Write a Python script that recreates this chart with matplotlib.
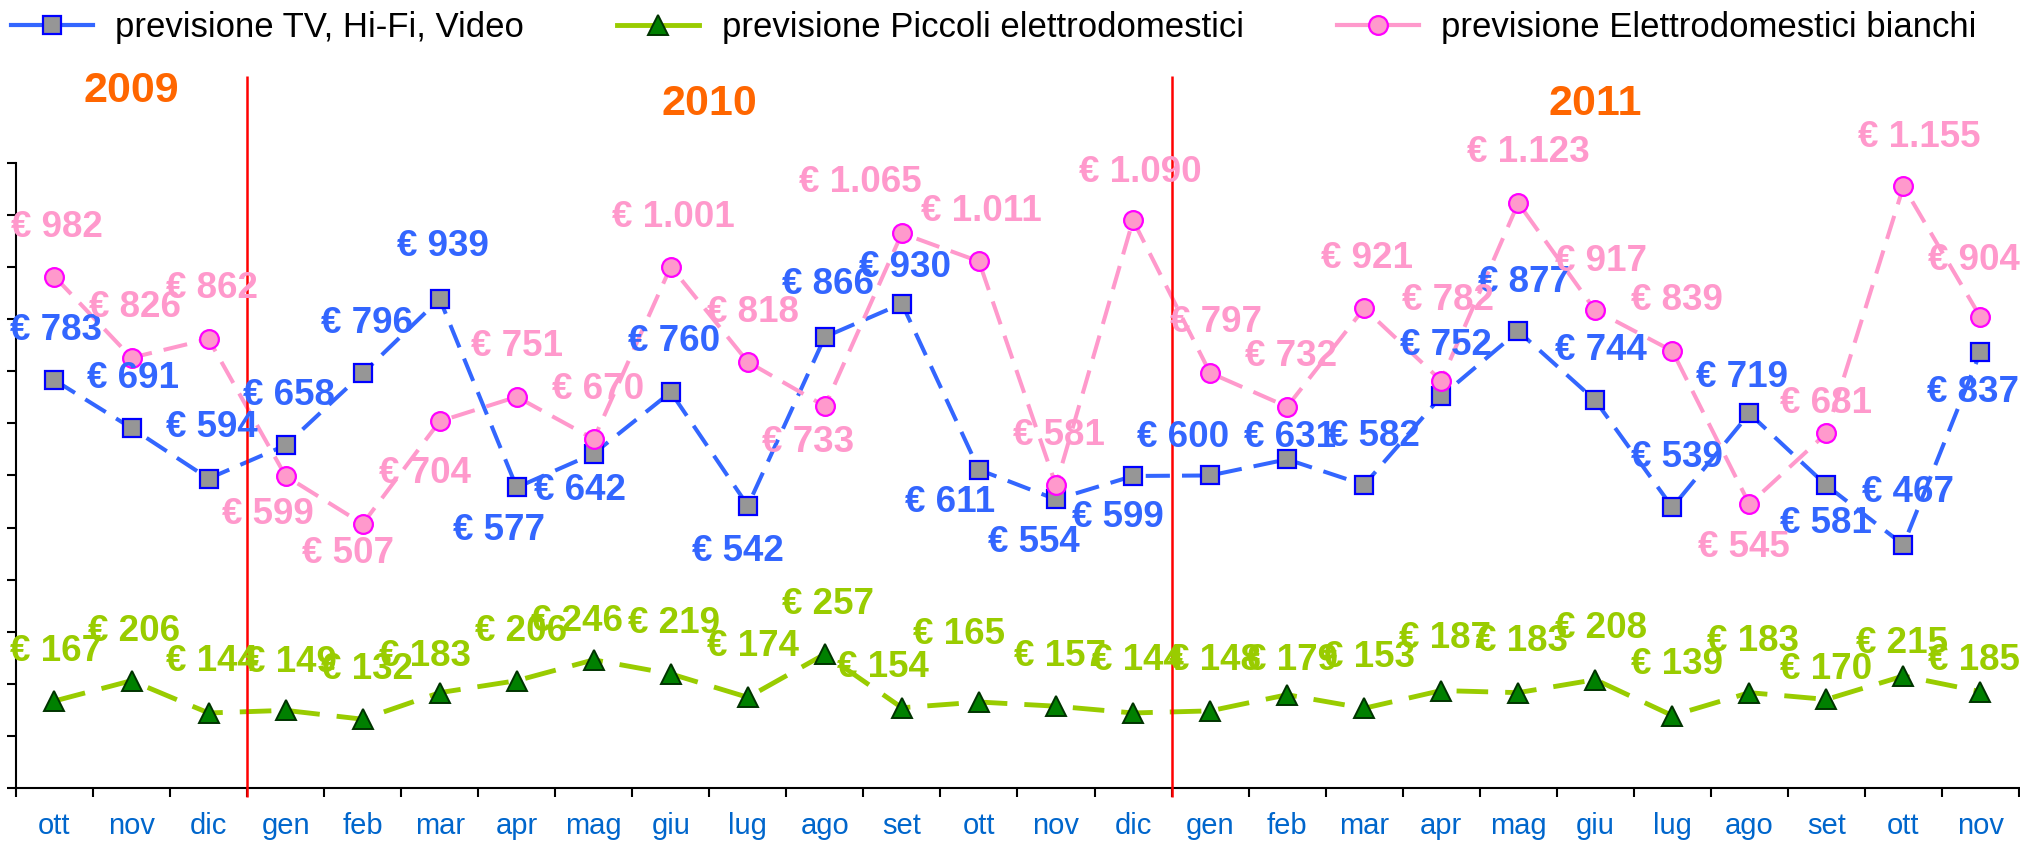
import numpy as np
import matplotlib
matplotlib.use("Agg")
import matplotlib.pyplot as plt
from matplotlib.lines import Line2D

plt.rcParams['font.family'] = ['Liberation Sans', 'DejaVu Sans']

# --- data -------------------------------------------------------------
months = ["ott", "nov", "dic",
          "gen", "feb", "mar", "apr", "mag", "giu", "lug", "ago", "set", "ott", "nov", "dic",
          "gen", "feb", "mar", "apr", "mag", "giu", "lug", "ago", "set", "ott", "nov"]
years = ["2009", "2010", "2011"]
months_per_year = [3, 12, 11]

tv = [783, 691, 594, 658, 796, 939, 577, 642, 760, 542, 866, 930, 611,
      554, 599, 600, 631, 582, 752, 877, 744, 539, 719, 581, 467, 837]
piccoli = [167, 206, 144, 149, 132, 183, 206, 246, 219, 174, 257, 154, 165,
           157, 144, 148, 179, 153, 187, 183, 208, 139, 183, 170, 215, 185]
bianchi = [982, 826, 862, 599, 507, 704, 751, 670, 1001, 818, 733, 1065, 1011,
           581, 1090, 797, 732, 921, 782, 1123, 917, 839, 545, 681, 1155, 904]

names = ["previsione TV, Hi-Fi, Video",
         "previsione Piccoli elettrodomestici",
         "previsione Elettrodomestici bianchi"]

# label offsets (pixels, from the point) as placed in the original
tv_dx = [2, 1, 3, 3, 4, 3, -18, -14, 3, -10, 3, 3, -29, -22, -15, -27, 3, 10, 5, 6, 6, 5, -7, 0, 5, -7]
tv_dy = [50, 50, 51, 50, 50, 52, -43, -37, 51, -46, 52, 36, -33, -43, -42, 38, 22, 48, 51, 49, 50, 50, 36, -38, 52, -40]
pi_dx = [2, 3, 3, 5, 4, -15, 4, -17, 3, 5, 3, -19, -20, 4, 5, 5, 5, 5, 4, 4, 6, 5, 4, 0, -1, -7]
pi_dy = [49, 49, 51, 48, 50, 36, 49, 38, 50, 51, 50, 40, 68, 50, 52, 50, 34, 51, 52, 51, 51, 51, 51, 30, 32, 31]
bi_dx = [2, 3, 3, -18, -15, -15, 0, 4, 3, 5, -17, -42, 2, 3, 7, 6, 4, 3, 7, 10, 6, 5, -5, 0, 16, -7]
bi_dy = [49, 50, 51, -39, -30, -52, 50, 50, 49, 49, -36, 51, 50, 50, 48, 50, 50, 50, 80, 51, 49, 50, -43, 30, 49, 57]

blue = "#3366FF"
green = "#99CC00"
pink = "#FF99CC"


def euro(v):
    return "€ " + f"{v:,}".replace(",", ".")


fig = plt.figure(figsize=(20.2, 8.44), dpi=100)
ax = fig.add_axes([0.0079, 0.0664, 0.9916, 0.7405])
x = np.arange(len(months))

ax.plot(x, tv, color=blue, lw=2.9, ls=(0, (6, 3)), marker="s", ms=13,
        mfc="#969696", mec="#0000FF", mew=1.6, zorder=3)
ax.plot(x, piccoli, color=green, lw=3.5, ls=(0, (6.5, 3.5)), marker="^", ms=15,
        mfc="#008000", mec="#003300", mew=1.4, zorder=3)
ax.plot(x, bianchi, color=pink, lw=2.9, ls=(0, (6, 3)), marker="o", ms=13.5,
        mfc=pink, mec="#FF00FF", mew=1.6, zorder=4)

for vals, dxs, dys, col in [(tv, tv_dx, tv_dy, blue),
                            (piccoli, pi_dx, pi_dy, green),
                            (bianchi, bi_dx, bi_dy, pink)]:
    for i, v in enumerate(vals):
        ax.annotate(euro(v), (i, v), xytext=(dxs[i], dys[i]), textcoords="offset pixels",
                    ha="center", va="center", fontsize=26.5, fontweight="bold",
                    color=col, zorder=6)

# year separators and year titles
bounds = np.cumsum(months_per_year)
tr = ax.get_xaxis_transform()
ax.vlines(bounds[:-1] - 0.5, -0.014, 1.139, transform=tr, color="#FF0000",
          lw=1.8, clip_on=False, zorder=5)
starts = np.concatenate([[0], bounds[:-1]])
for k, (yr, s, n) in enumerate(zip(years, starts, months_per_year)):
    ax.text(s + (n - 1) / 2, 1.115 if k == 0 else 1.094, yr, transform=tr,
            ha="center", va="center", fontsize=31, fontweight="bold", color="#FF6600")

ax.set_xlim(-0.5, len(months) - 0.5)
ax.set_ylim(0, 1200)
ax.set_yticks(np.arange(0, 1201, 100))
ax.set_yticklabels([])
ax.set_xticks(x)
ax.set_xticklabels(months, fontsize=21, color="#0066CC")
ax.set_xticks(np.arange(-0.5, len(months)), minor=True)
ax.tick_params(axis="x", which="major", length=0, pad=17)
ax.tick_params(axis="x", which="minor", length=6.5, width=1.5, direction="out")
ax.tick_params(axis="y", length=6.5, width=1.5, direction="out")
for side in ["top", "right"]:
    ax.spines[side].set_visible(False)
for side in ["left", "bottom"]:
    ax.spines[side].set_linewidth(1.5)

handles = [
    Line2D([], [], color=blue, lw=3, marker="s", ms=13, mfc="#969696", mec="#0000FF", mew=1.6),
    Line2D([], [], color=green, lw=3.5, marker="^", ms=15, mfc="#008000", mec="#003300", mew=1.4),
    Line2D([], [], color=pink, lw=3, marker="o", ms=13.5, mfc=pink, mec="#FF00FF", mew=1.6),
]
fig.legend(handles, names, loc="center left", bbox_to_anchor=(0.0054, 0.967),
           ncol=3, frameon=False, borderpad=0, borderaxespad=0, fontsize=25,
           handlelength=2.35, handletextpad=0.66, columnspacing=2.68)

fig.savefig("out.png", dpi=100)
